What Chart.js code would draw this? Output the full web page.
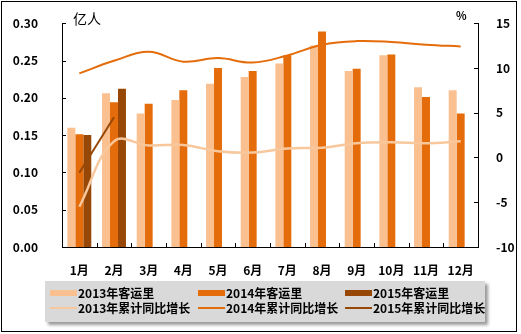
<!DOCTYPE html>
<html>
<head>
<meta charset="utf-8">
<script src="https://cdn.jsdelivr.net/npm/chart.js@4.4.1/dist/chart.umd.min.js"></script>
<style>
    body { margin: 0; background: #fff; }
    .wrap { position: relative; width: 521px; height: 334px; font-family: "Noto Sans CJK SC", sans-serif; }
    .frame { position: absolute; left: 1px; top: 1px; width: 514px; height: 329px; border: 1px solid #000; pointer-events: none; }
    canvas { position: absolute; left: 0; top: 0; }
    .unit { position: absolute; font-size: 13px; color: #000; }
    .legend {
        position: absolute; left: 45px; top: 281px; width: 440px; height: 41px;
        background: #d9d9d9; box-shadow: 3px 3px 3px #9a9a9a;
    }
    .item { position: absolute; height: 15px; display: flex; align-items: center; font-size: 12px; font-weight: bold; color: #000; white-space: nowrap; }
    .sw { width: 27px; margin-right: 1px; }
</style>
</head>
<body>
<div class="wrap">
    <canvas id="chart" width="521" height="334"></canvas>
    <div class="unit" style="left:73px;top:8px;font-size:14px;">亿人</div>
    <div class="unit" style="left:456px;top:7px;font-weight:bold;font-size:11px;">%</div>
    <div class="legend" id="legend"></div>
    <div class="frame"></div>
</div>
<script>
// data
const months = ['1月', '2月', '3月', '4月', '5月', '6月', '7月', '8月', '9月', '10月', '11月', '12月'];
const traffic2013 = [0.160, 0.206, 0.179, 0.197, 0.219, 0.228, 0.246, 0.270, 0.236, 0.257, 0.214, 0.210];
const traffic2014 = [0.151, 0.194, 0.192, 0.210, 0.240, 0.236, 0.257, 0.289, 0.239, 0.258, 0.201, 0.179];
const traffic2015 = [0.150, 0.212, null, null, null, null, null, null, null, null, null, null];
const growth2013 = [-5.5, 1.8, 1.35, 1.4, 0.7, 0.55, 1.0, 1.1, 1.6, 1.7, 1.6, 1.8];
const growth2014 = [9.4, 10.8, 11.8, 10.7, 11.1, 10.6, 11.4, 12.6, 13.0, 12.9, 12.6, 12.4];
const growth2015 = [-1.7, 4.5, null, null, null, null, null, null, null, null, null, null];

const c2013 = '#fac090';
const c2014 = '#e46c0a';
const c2015 = '#974806';

const tickFont = { family: '"Noto Sans CJK SC", sans-serif', size: 12, weight: 'bold' };

// Excel style inward tick marks
const innerTicks = {
    id: 'innerTicks',
    afterDatasetsDraw(chart) {
        const ctx = chart.ctx;
        const area = chart.chartArea;
        const x = chart.scales.x, y = chart.scales.y, y1 = chart.scales.y1;
        ctx.save();
        ctx.strokeStyle = '#000';
        ctx.lineWidth = 1;
        ctx.beginPath();
        y.ticks.forEach((t, i) => {
            const py = Math.round(y.getPixelForTick(i)) + 0.5;
            ctx.moveTo(area.left, py); ctx.lineTo(area.left + 4, py);
        });
        y1.ticks.forEach((t, i) => {
            const py = Math.round(y1.getPixelForTick(i)) + 0.5;
            ctx.moveTo(area.right, py); ctx.lineTo(area.right - 4, py);
        });
        for (let i = 0; i <= months.length; i++) {
            const px = Math.round(x.getPixelForValue(i - 0.5)) + 0.5;
            ctx.moveTo(px, area.bottom); ctx.lineTo(px, area.bottom - 4);
        }
        ctx.stroke();
        ctx.restore();
    }
};

const datasets = [
    { type: 'line', label: '2013年累计同比增长', data: growth2013, yAxisID: 'y1', borderColor: '#f9c79c', borderWidth: 2.5, pointRadius: 0, tension: 0.4, order: 0 },
    { type: 'line', label: '2014年累计同比增长', data: growth2014, yAxisID: 'y1', borderColor: c2014, borderWidth: 2, pointRadius: 0, tension: 0.4, order: 0 },
    { type: 'line', label: '2015年累计同比增长', data: growth2015, yAxisID: 'y1', borderColor: c2015, borderWidth: 2, pointRadius: 0, tension: 0, order: 0 },
    { type: 'bar', label: '2013年客运里', data: traffic2013, yAxisID: 'y', backgroundColor: c2013, order: 1 },
    { type: 'bar', label: '2014年客运里', data: traffic2014, yAxisID: 'y', backgroundColor: c2014, order: 1 },
    { type: 'bar', label: '2015年客运里', data: traffic2015, yAxisID: 'y', backgroundColor: c2015, order: 1 }
];

new Chart(document.getElementById('chart'), {
    type: 'bar',
    data: { labels: months, datasets: datasets },
    options: {
        responsive: false,
        animation: false,
        datasets: { bar: { categoryPercentage: 0.69, barPercentage: 1 } },
        layout: { padding: { top: 18, left: 0, right: 0, bottom: 0 } },
        plugins: { legend: { display: false }, tooltip: { enabled: false } },
        scales: {
            x: {
                grid: { display: false },
                border: { display: true, color: '#000', width: 1 },
                ticks: { color: '#000', font: tickFont, padding: 8, maxRotation: 0, autoSkip: false },
                afterFit(s) { s.height = 334 - 18 - 229 - 0; }
            },
            y: {
                position: 'left',
                min: 0, max: 0.30,
                grid: { display: false },
                border: { display: true, color: '#000', width: 1 },
                ticks: { stepSize: 0.05, color: '#000', font: tickFont, padding: 16, callback: v => v.toFixed(2) },
                afterFit(s) { s.width = 62; }
            },
            y1: {
                position: 'right',
                min: -10, max: 15,
                grid: { display: false },
                border: { display: true, color: '#000', width: 1 },
                ticks: { stepSize: 5, color: '#000', font: tickFont, padding: 10 },
                afterFit(s) { s.width = 43; }
            }
        }
    },
    plugins: [innerTicks]
});

// legend in three columns like the original
const legend = document.getElementById('legend');
const order = [3, 4, 5, 0, 1, 2];
const colX = [5, 153, 300];
const rowY = [4, 19];
order.forEach((di, k) => {
    const ds = datasets[di];
    const item = document.createElement('div');
    item.className = 'item';
    item.style.left = colX[k % 3] + 'px';
    item.style.top = rowY[Math.floor(k / 3)] + 'px';
    const sw = document.createElement('span');
    sw.className = 'sw';
    if (ds.type === 'bar') {
        sw.style.height = '6px';
        sw.style.background = ds.backgroundColor;
    } else {
        sw.style.height = '2px';
        sw.style.background = ds.borderColor;
    }
    item.appendChild(sw);
    item.appendChild(document.createTextNode(ds.label));
    legend.appendChild(item);
});
</script>
</body>
</html>
